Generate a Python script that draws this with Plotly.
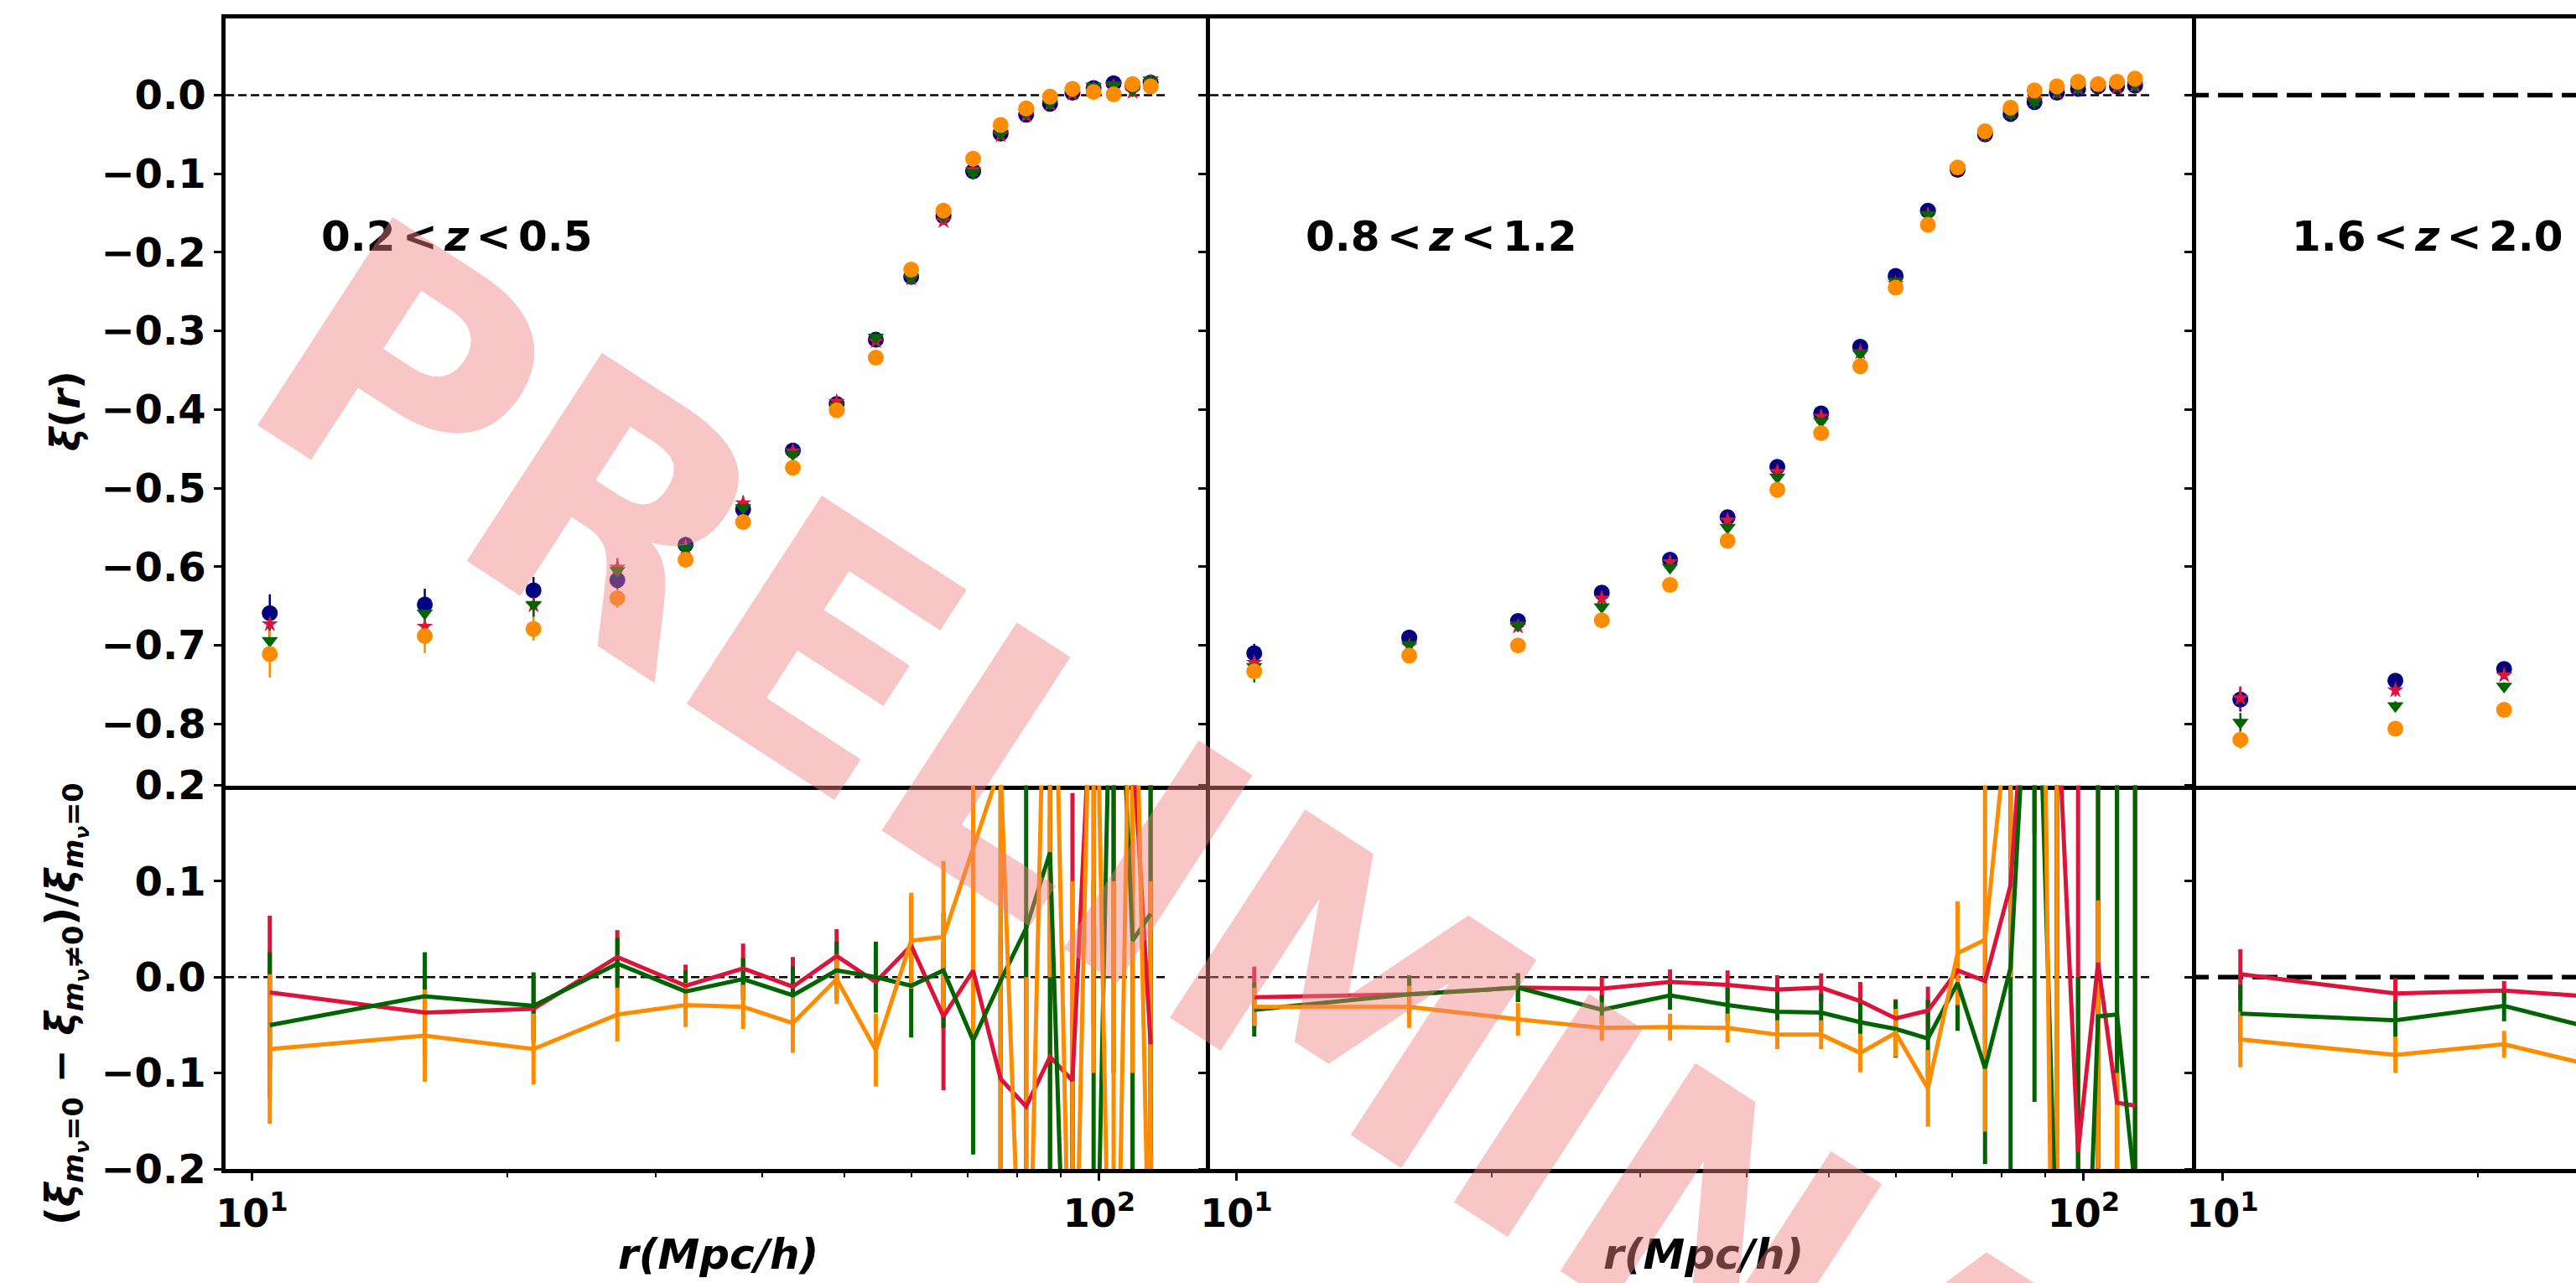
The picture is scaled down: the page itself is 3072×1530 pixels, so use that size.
import plotly.graph_objects as go

W, H = 3072, 1530

# ---------------- data ----------------
r = [10.5, 16.0, 21.5, 27.0, 32.5, 38.0, 43.5, 49.0, 54.5, 60.0,
     65.5, 71.0, 76.5, 82.0, 87.5, 93.0, 98.5, 104.0, 109.5, 115.0]
r_z3_top = [10.5, 16.0, 21.5]
r_z3_bot = [10.5, 16.0, 21.5, 27.0]

z_labels = ["0.2\u2006&lt;\u2006<i>z</i>\u2006&lt;\u20060.5",
            "0.8\u2006&lt;\u2006<i>z</i>\u2006&lt;\u20061.2",
            "1.6\u2006&lt;\u2006<i>z</i>\u2006&lt;\u20062.0"]

# xi(r), 0.2 < z < 0.5
xi0_z1 = [-0.659, -0.648, -0.630, -0.617, -0.572, -0.527, -0.452, -0.393, -0.311, -0.231,
          -0.154, -0.097, -0.049, -0.025, -0.011, 0.003, 0.009, 0.015, 0.012, 0.016]
xi1_z1 = [-0.673, -0.676, -0.649, -0.601, -0.575, -0.519, -0.453, -0.390, -0.313, -0.233,
          -0.160, -0.095, -0.051, -0.026, -0.011, 0.002, 0.008, 0.011, 0.004, 0.017]
xi2_z1 = [-0.694, -0.659, -0.648, -0.605, -0.577, -0.525, -0.457, -0.395, -0.308, -0.233,
          -0.154, -0.099, -0.049, -0.023, -0.011, 0.005, 0.011, 0.013, 0.006, 0.019]
xi3_z1 = [-0.711, -0.688, -0.679, -0.640, -0.591, -0.543, -0.474, -0.401, -0.334, -0.222,
          -0.147, -0.081, -0.038, -0.017, -0.002, 0.008, 0.004, 0.001, 0.014, 0.011]
e0_z1 = [0.024, 0.020, 0.017, 0.012, 0.010, 0.009, 0.008, 0.007, 0.006, 0.005,
         0.005, 0.004, 0.004, 0.004, 0.003, 0.003, 0.003, 0.003, 0.003, 0.003]
e1_z1 = [0.020, 0.018, 0.015, 0.012, 0.010, 0.009, 0.008, 0.007, 0.006, 0.005,
         0.005, 0.004, 0.004, 0.004, 0.003, 0.003, 0.003, 0.003, 0.003, 0.003]
e2_z1 = [0.020, 0.018, 0.015, 0.012, 0.010, 0.009, 0.008, 0.007, 0.006, 0.005,
         0.005, 0.004, 0.004, 0.004, 0.003, 0.003, 0.003, 0.003, 0.003, 0.003]
e3_z1 = [0.030, 0.022, 0.015, 0.012, 0.010, 0.009, 0.008, 0.007, 0.006, 0.005,
         0.005, 0.004, 0.004, 0.004, 0.003, 0.003, 0.003, 0.003, 0.003, 0.003]

# xi(r), 0.8 < z < 1.2
xi0_z2 = [-0.710, -0.690, -0.669, -0.633, -0.591, -0.537, -0.473, -0.405, -0.320, -0.230,
          -0.147, -0.095, -0.050, -0.024, -0.009, 0.003, 0.008, 0.011, 0.011, 0.012]
xi1_z2 = [-0.722, -0.701, -0.676, -0.640, -0.594, -0.541, -0.479, -0.409, -0.327, -0.240,
          -0.152, -0.094, -0.050, -0.021, -0.006, 0.003, 0.009, 0.012, 0.010, 0.012]
xi2_z2 = [-0.727, -0.699, -0.674, -0.651, -0.601, -0.550, -0.486, -0.415, -0.329, -0.237,
          -0.152, -0.093, -0.051, -0.024, -0.009, 0.004, 0.009, 0.011, 0.012, 0.013]
xi3_z2 = [-0.733, -0.713, -0.700, -0.668, -0.623, -0.567, -0.502, -0.430, -0.345, -0.245,
          -0.165, -0.092, -0.046, -0.016, 0.006, 0.011, 0.017, 0.014, 0.017, 0.021]
e0_z2 = [0.012, 0.008, 0.007, 0.006, 0.006, 0.005, 0.005, 0.004, 0.004, 0.004,
         0.004, 0.003, 0.003, 0.003, 0.003, 0.003, 0.003, 0.003, 0.003, 0.003]
e1_z2 = e0_z2
e2_z2 = [0.020, 0.010, 0.008, 0.006, 0.006, 0.005, 0.005, 0.004, 0.004, 0.004,
         0.004, 0.003, 0.003, 0.003, 0.003, 0.003, 0.003, 0.003, 0.003, 0.003]
e3_z2 = [0.010, 0.008, 0.007, 0.006, 0.006, 0.005, 0.005, 0.004, 0.004, 0.004,
         0.004, 0.003, 0.003, 0.003, 0.003, 0.003, 0.003, 0.003, 0.003, 0.003]

# xi(r), 1.6 < z < 2.0
xi0_z3 = [-0.769, -0.745, -0.730]
xi1_z3 = [-0.767, -0.757, -0.738]
xi2_z3 = [-0.798, -0.777, -0.752]
xi3_z3 = [-0.820, -0.806, -0.782]
e0_z3 = [0.015, 0.006, 0.005]
e1_z3 = [0.015, 0.008, 0.005]
e2_z3 = [0.012, 0.006, 0.005]
e3_z3 = [0.011, 0.006, 0.005]

# relative difference (xi_0 - xi_nu) / xi_0
d1_z1 = [-0.016, -0.037, -0.033, 0.021, -0.009, 0.009, -0.010, 0.022, -0.005, 0.033,
         -0.041, 0.007, -0.106, -0.135, -0.083, -0.108, 0.35, 0.60, 0.25, -0.070]
d2_z1 = [-0.050, -0.020, -0.030, 0.014, -0.015, -0.002, -0.019, 0.007, 0.000, -0.009,
         0.007, -0.066, -0.004, 0.051, 0.130, -0.60, -0.50, 0.50, 0.038, 0.066]
d3_z1 = [-0.075, -0.061, -0.075, -0.039, -0.029, -0.031, -0.048, -0.002, -0.076, 0.038,
         0.042, 0.135, 0.22, -0.50, 0.60, -0.50, 0.50, -0.60, 0.50, -0.40]
de1_z1 = [0.080, 0.045, 0.035, 0.028, 0.022, 0.026, 0.031, 0.028, 0.030, 0.050,
          0.077, 0.10, 0.15, 0.20, 0.25, 0.30, 0.40, 0.50, 0.50, 0.50]
de2_z1 = [0.076, 0.046, 0.035, 0.027, 0.022, 0.022, 0.030, 0.030, 0.037, 0.054,
          0.060, 0.119, 0.30, 0.25, 0.35, 0.50, 0.60, 0.60, 0.45, 0.25]
de3_z1 = [0.078, 0.048, 0.037, 0.028, 0.023, 0.023, 0.031, 0.026, 0.038, 0.050,
          0.079, 0.20, 0.42, 0.50, 0.60, 0.60, 0.60, 0.70, 0.60, 0.50]

d1_z2 = [-0.021, -0.018, -0.011, -0.012, -0.005, -0.008, -0.013, -0.011, -0.025, -0.043,
         -0.035, 0.007, -0.004, 0.096, 0.45, 0.30, -0.182, 0.015, -0.131, -0.134]
d2_z2 = [-0.034, -0.018, -0.011, -0.034, -0.019, -0.029, -0.036, -0.037, -0.047, -0.054,
         -0.064, -0.006, -0.095, 0.010, 0.47, -0.30, -0.60, -0.041, -0.039, -0.22]
d3_z2 = [-0.031, -0.031, -0.044, -0.053, -0.052, -0.053, -0.060, -0.060, -0.079, -0.058,
         -0.116, 0.025, 0.039, 0.30, 1.20, -0.80, -1.20, -0.30, -0.50, -0.40]
de1_z2 = [0.032, 0.020, 0.015, 0.012, 0.013, 0.015, 0.015, 0.015, 0.020, 0.020,
          0.025, 0.030, 0.060, 0.10, 0.30, 0.30, 0.50, 0.30, 0.40, 0.40]
de2_z2 = [0.028, 0.020, 0.015, 0.015, 0.015, 0.018, 0.020, 0.020, 0.025, 0.030,
          0.040, 0.050, 0.10, 0.25, 0.60, 0.60, 0.60, 0.50, 0.50, 0.60]
de3_z2 = [0.020, 0.022, 0.017, 0.013, 0.014, 0.015, 0.015, 0.015, 0.020, 0.025,
          0.040, 0.054, 0.20, 0.30, 0.60, 1.10, 0.60, 0.38, 0.40, 0.15]

d1_z3 = [0.003, -0.017, -0.014, -0.020]
d2_z3 = [-0.038, -0.045, -0.030, -0.052]
d3_z3 = [-0.065, -0.081, -0.070, -0.091]
de1_z3 = [0.026, 0.016, 0.010, 0.010]
de2_z3 = [0.030, 0.020, 0.016, 0.015]
de3_z3 = [0.029, 0.019, 0.014, 0.014]

# ---------------- styling ----------------
NAVY, CRIMSON, GREEN, ORANGE = "#000080", "#DC143C", "#006400", "#FF8C00"
FONT = "DejaVu Sans"

# subplot geometry in pixels
LEFTS = [269, 1443, 2619]
RIGHTS = [1443, 2619, 3072]
Y_TOP, Y_MID, Y_BOT = 21.5, 936.5, 1394
DECADE = 1010.5          # pixels per decade on the log r axis
LOG_LEFT = 0.969         # log10(r) at the left edge of every panel


def px_x(v):
    return v / W


def px_y(v):
    return 1 - v / H


fig = go.Figure()

top_sets = [
    (r, [(xi0_z1, e0_z1), (xi1_z1, e1_z1), (xi2_z1, e2_z1), (xi3_z1, e3_z1)]),
    (r, [(xi0_z2, e0_z2), (xi1_z2, e1_z2), (xi2_z2, e2_z2), (xi3_z2, e3_z2)]),
    (r_z3_top, [(xi0_z3, e0_z3), (xi1_z3, e1_z3), (xi2_z3, e2_z3), (xi3_z3, e3_z3)]),
]
bot_sets = [
    (r, [(d1_z1, de1_z1), (d2_z1, de2_z1), (d3_z1, de3_z1)]),
    (r, [(d1_z2, de1_z2), (d2_z2, de2_z2), (d3_z2, de3_z2)]),
    (r_z3_bot, [(d1_z3, de1_z3), (d2_z3, de2_z3), (d3_z3, de3_z3)]),
]
top_style = [(NAVY, "circle", 19), (CRIMSON, "star", 15),
             (GREEN, "triangle-down", 17), (ORANGE, "circle", 19)]
bot_colors = [CRIMSON, GREEN, ORANGE]

for i in range(3):
    xt, yt = f"x{i + 1}", f"y{i + 1}"
    xb, yb = f"x{i + 4}", f"y{i + 4}"

    # zero reference lines
    if i < 2:
        zl = dict(color="black", width=2.5, dash="10px,5px")
        zx = [9.0, 120.0]
    else:
        zl = dict(color="black", width=5.5, dash="30px,11px")
        zx = [9.0, 200.0]
    for xa, ya in ((xt, yt), (xb, yb)):
        fig.add_trace(go.Scatter(x=zx, y=[0, 0], mode="lines", line=zl,
                                 xaxis=xa, yaxis=ya, hoverinfo="skip"))

    # correlation function: error bars first, then markers
    rx, series = top_sets[i]
    for (vals, errs), (col, sym, sz) in zip(series, top_style):
        fig.add_trace(go.Scatter(
            x=rx, y=vals, mode="markers",
            marker=dict(size=1, color="rgba(0,0,0,0)"),
            error_y=dict(type="data", array=errs, visible=True, color=col,
                         thickness=2.5, width=0),
            xaxis=xt, yaxis=yt, hoverinfo="skip"))
    for (vals, errs), (col, sym, sz) in zip(series, top_style):
        fig.add_trace(go.Scatter(
            x=rx, y=vals, mode="markers",
            marker=dict(size=sz, color=col, symbol=sym, line=dict(width=0)),
            xaxis=xt, yaxis=yt))

    # relative differences: error bars first, then the lines
    rx, series = bot_sets[i]
    for (vals, errs), col in zip(series, bot_colors):
        fig.add_trace(go.Scatter(
            x=rx, y=vals, mode="markers",
            marker=dict(size=1, color="rgba(0,0,0,0)"),
            error_y=dict(type="data", array=errs, visible=True, color=col,
                         thickness=5, width=0),
            xaxis=xb, yaxis=yb, hoverinfo="skip"))
    for (vals, errs), col in zip(series, bot_colors):
        fig.add_trace(go.Scatter(
            x=rx, y=vals, mode="lines", line=dict(color=col, width=5),
            xaxis=xb, yaxis=yb))

tick_font = dict(family=FONT, size=48, color="black", weight="bold")
minor_vals = [20, 30, 40, 50, 60, 70, 80, 90, 200, 300]

layout = dict(
    width=W, height=H,
    margin=dict(l=0, r=0, t=0, b=0, pad=0, autoexpand=False),
    paper_bgcolor="white", plot_bgcolor="white", showlegend=False,
)

for i in range(3):
    dom = [px_x(LEFTS[i]), px_x(RIGHTS[i])]
    rng = [LOG_LEFT, LOG_LEFT + (RIGHTS[i] - LEFTS[i]) / DECADE]
    top_sfx = "" if i == 0 else str(i + 1)
    bot_sfx = str(i + 4)
    layout["xaxis" + top_sfx] = dict(
        domain=dom, type="log", range=rng, anchor="y" + str(i + 1),
        showline=True, linewidth=4.5, linecolor="black", mirror=True,
        ticks="", showticklabels=False, showgrid=False, zeroline=False)
    layout["yaxis" + top_sfx] = dict(
        domain=[px_y(Y_MID), px_y(Y_TOP)], range=[-0.878, 0.098],
        anchor="x" + str(i + 1),
        tickvals=[0, -0.1, -0.2, -0.3, -0.4, -0.5, -0.6, -0.7, -0.8],
        tickformat=".1f", ticks="outside", ticklen=9, tickwidth=2.5,
        tickcolor="black", showticklabels=(i == 0), tickfont=tick_font,
        showline=True, linewidth=4.5, linecolor="black", mirror=False,
        showgrid=False, zeroline=False)
    layout["xaxis" + bot_sfx] = dict(
        domain=dom, type="log", range=rng, anchor="y" + bot_sfx,
        tickvals=[10, 100], ticktext=["10<sup>1</sup>", "10<sup>2</sup>"],
        ticks="outside", ticklen=9, tickwidth=2.5, tickcolor="black",
        tickfont=dict(family=FONT, size=46, color="black", weight="bold"),
        minor=dict(tickmode="array", tickvals=minor_vals, ticks="outside",
                   ticklen=5, tickwidth=2, tickcolor="black", showgrid=False),
        showline=True, linewidth=4.5, linecolor="black", mirror=False,
        showgrid=False, zeroline=False)
    layout["yaxis" + bot_sfx] = dict(
        domain=[px_y(Y_BOT), px_y(Y_MID)], range=[-0.2, 0.2],
        anchor="x" + bot_sfx,
        tickvals=[0.2, 0.1, 0, -0.1, -0.2], tickformat=".1f",
        ticks="outside", ticklen=9, tickwidth=2.5, tickcolor="black",
        showticklabels=(i == 0), tickfont=tick_font,
        showline=True, linewidth=4.5, linecolor="black", mirror=False,
        showgrid=False, zeroline=False)

annotations = []
label_font = dict(family=FONT, size=50, color="black", weight="bold")
for i in range(3):
    annotations.append(dict(
        text=z_labels[i], xref="paper", yref="paper",
        x=px_x(LEFTS[i] + 112), y=px_y(282), xanchor="left", yanchor="middle",
        showarrow=False, font=label_font))
for i in range(2):
    annotations.append(dict(
        text="r(Mpc/h)", xref="paper", yref="paper",
        x=px_x((LEFTS[i] + RIGHTS[i]) / 2), y=px_y(1496),
        xanchor="center", yanchor="middle", showarrow=False,
        font=dict(family=FONT, size=50, color="black", weight="bold", style="italic")))
annotations.append(dict(
    text="<i>ξ</i>(<i>r</i>)", xref="paper", yref="paper",
    x=px_x(78), y=px_y(490), xanchor="center", yanchor="middle",
    textangle=-90, showarrow=False,
    font=dict(family=FONT, size=48, color="black", weight="bold")))
annotations.append(dict(
    text="(<i>ξ</i><sub><i>m</i><sub><i>ν</i></sub>=0</sub> − "
         "<i>ξ</i><sub><i>m</i><sub><i>ν</i></sub>≠0</sub>)/"
         "<i>ξ</i><sub><i>m</i><sub><i>ν</i></sub>=0</sub>",
    xref="paper", yref="paper",
    x=px_x(78), y=px_y(1197), xanchor="center", yanchor="middle",
    textangle=-90, showarrow=False,
    font=dict(family=FONT, size=48, color="black", weight="bold")))
# watermark across the figure
annotations.append(dict(
    text="PRELIMINARY", xref="paper", yref="paper",
    x=px_x(1650), y=px_y(1211), xanchor="center", yanchor="middle",
    textangle=33, showarrow=False,
    font=dict(family=FONT, size=406, color="rgba(240,128,128,0.45)", weight="bold")))
layout["annotations"] = annotations

fig.update_layout(**layout)
fig.write_html("out.html")
